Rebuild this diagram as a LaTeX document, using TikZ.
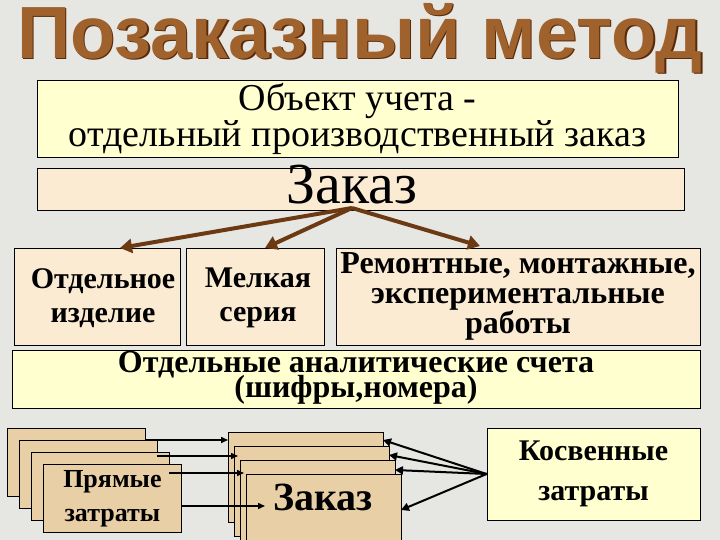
\documentclass[tikz,border=0pt]{standalone}
\usepackage{fontspec}
\setmainfont{Liberation Serif}[BoldFont={Liberation Serif Bold}]
\newfontfamily\titlefont{Liberation Sans}
\usetikzlibrary{arrows.meta}
\definecolor{bg}{HTML}{E6E6E2}
\definecolor{lightyel}{HTML}{FFFFD0}
\definecolor{beige}{HTML}{FBEBD3}
\definecolor{tan}{HTML}{E8CFA5}
\definecolor{brownarr}{HTML}{6B3A12}
\definecolor{titlebrown}{HTML}{A0622D}
\definecolor{titledark}{HTML}{5A2A08}
\tikzset{
 box/.style={draw=black, line width=0.8pt, inner sep=0pt},
 card/.style={draw=black, line width=0.8pt, fill=tan},
 brarrow/.style={draw=brownarr, line width=4pt, -{Triangle[length=12pt,width=14pt]}},
 blkarrow/.style={draw=black, line width=2pt, -{Triangle[length=8pt,width=8pt]}},
 thinarrow/.style={draw=black, line width=1.5pt, -{Triangle[length=7pt,width=6pt]}},
 txt/.style={align=center, font=\bfseries\fontsize{32}{30}\selectfont}
}
\begin{document}
\begin{tikzpicture}[x=1pt,y=-1pt]
\useasboundingbox (0,0) rectangle (720,540);
\fill[bg] (0,0) rectangle (720,540);
\node[font=\titlefont\bfseries\fontsize{74}{74}\selectfont, text=titledark] (titlesh) at (361.5,39.5) {Позаказный метод};
\node[font=\titlefont\bfseries\fontsize{74}{74}\selectfont, text=titlebrown] (title) at (360,38) {Позаказный метод};
\node[box, fill=lightyel, minimum width=641pt, minimum height=77pt, align=center,
 font=\fontsize{38}{36}\selectfont] (obj) at (357.5,118.5) {Объект учета -\\отдельный производственный заказ};
\node[box, fill=beige, minimum width=647pt, minimum height=42pt] (zbox) at (360.5,189) {};
\node[font=\fontsize{58}{58}\selectfont] (zt) at (352,185) {Заказ};
\coordinate (zsrc) at (352,208);
\node[box, fill=beige, minimum width=166pt, minimum height=97pt] (a) at (97,296.5) {};
\node[box, fill=beige, minimum width=138pt, minimum height=97pt] (b) at (255,296.5) {};
\node[box, fill=beige, minimum width=364pt, minimum height=97pt, txt] (c) at (518,296.5) {Ремонтные, монтажные,\\экспериментальные\\работы};
\node[txt, font=\bfseries\fontsize{30}{34}\selectfont] (at) at (103,298) {Отдельное\\изделие};
\node[txt, font=\bfseries\fontsize{30}{34}\selectfont] (bt) at (258,298) {Мелкая\\серия};
\draw[brarrow] (zsrc) -- (120,248);
\draw[brarrow] (zsrc) -- (265,248);
\draw[brarrow] (zsrc) -- (480,246);
\node[box, fill=lightyel, minimum width=688pt, minimum height=58pt, txt] (d) at (356,379) {\raisebox{-2pt}{\begin{tabular}{c}Отдельные аналитические счета\\[-6pt](шифры,номера)\end{tabular}}};
% left cards
\foreach \i in {0,1,2} {
 \node[card, minimum width=138pt, minimum height=68pt, anchor=north west] (l\i) at (7+12*\i,428+12*\i) {};
}
\node[card, minimum width=138pt, minimum height=68pt, anchor=north west, txt, font=\bfseries\fontsize{26}{34}\selectfont] (l3) at (43,464) {Прямые\\затраты};
% zakaz cards
\foreach \i in {0,1,2} {
 \node[card, minimum width=155pt, minimum height=90pt, anchor=north west] (z\i) at (228+6*\i,432+14*\i) {};
}
\node[card, minimum width=155pt, minimum height=90pt, anchor=north west] (z3) at (246,474) {};
\node[font=\bfseries\fontsize{40}{40}\selectfont] (zk) at (323,497) {Заказ};
\node[box, fill=lightyel, minimum width=213pt, minimum height=92pt, txt, font=\bfseries\fontsize{30}{40}\selectfont] (k) at (593.5,474) {Косвенные\\затраты};
% arrows
\draw[thinarrow] (145,440) -- (228,440);
\draw[thinarrow] (157,456) -- (238,456);
\draw[thinarrow] (169,473) -- (244,473);
\draw[thinarrow] (181,506) -- (265,506);
\draw[blkarrow] (k.west) -- (383,440);
\draw[blkarrow] (k.west) -- (389,455);
\draw[blkarrow] (k.west) -- (395,470);
\draw[blkarrow] (k.west) -- (401,510);
\end{tikzpicture}
\end{document}
